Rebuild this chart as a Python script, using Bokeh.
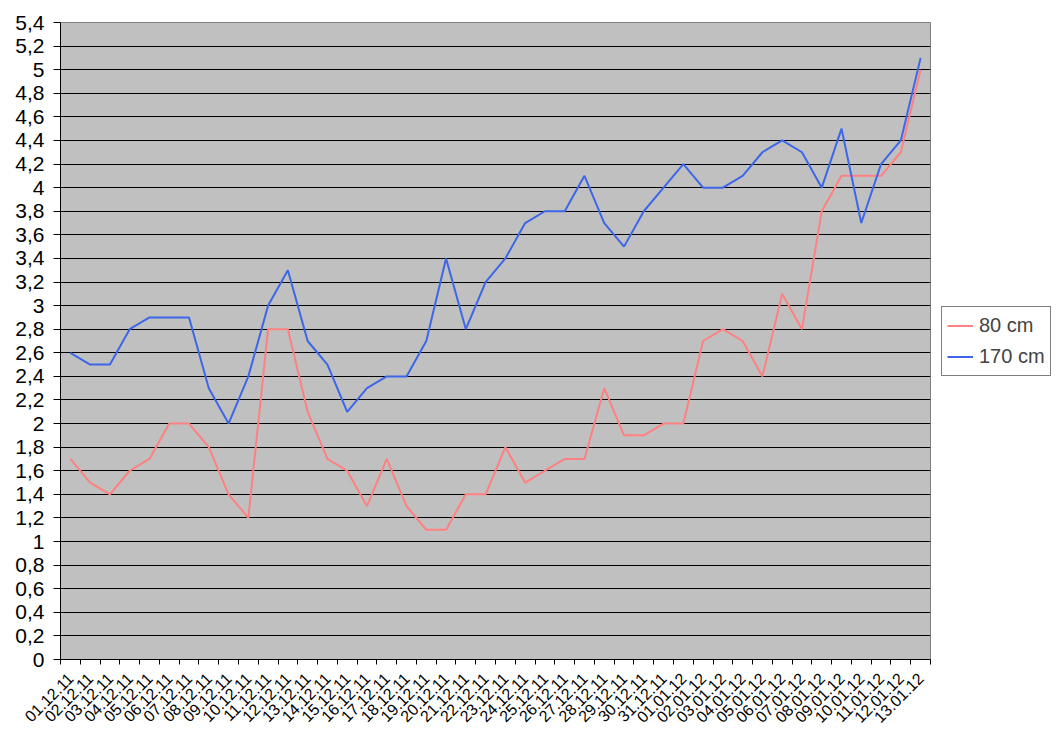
from bokeh.plotting import figure
from bokeh.models import (Range1d, FixedTicker, CustomJSTickFormatter, Legend, LegendItem,
                          ColumnDataSource)
from bokeh.embed import file_html
from bokeh.resources import INLINE
import math

dates = ["01.12.11", "02.12.11", "03.12.11", "04.12.11", "05.12.11", "06.12.11", "07.12.11",
         "08.12.11", "09.12.11", "10.12.11", "11.12.11", "12.12.11", "13.12.11", "14.12.11",
         "15.12.11", "16.12.11", "17.12.11", "18.12.11", "19.12.11", "20.12.11", "21.12.11",
         "22.12.11", "23.12.11", "24.12.11", "25.12.11", "26.12.11", "27.12.11", "28.12.11",
         "29.12.11", "30.12.11", "31.12.11", "01.01.12", "02.01.12", "03.01.12", "04.01.12",
         "05.01.12", "06.01.12", "07.01.12", "08.01.12", "09.01.12", "10.01.12", "11.01.12",
         "12.01.12", "13.01.12"]

cm80 = [1.7, 1.5, 1.4, 1.6, 1.7, 2.0, 2.0, 1.8, 1.4, 1.2, 2.8, 2.8, 2.1, 1.7, 1.6, 1.3, 1.7,
        1.3, 1.1, 1.1, 1.4, 1.4, 1.8, 1.5, 1.6, 1.7, 1.7, 2.3, 1.9, 1.9, 2.0, 2.0, 2.7, 2.8,
        2.7, 2.4, 3.1, 2.8, 3.8, 4.1, 4.1, 4.1, 4.3, 5.0]

cm170 = [2.6, 2.5, 2.5, 2.8, 2.9, 2.9, 2.9, 2.3, 2.0, 2.4, 3.0, 3.3, 2.7, 2.5, 2.1, 2.3, 2.4,
         2.4, 2.7, 3.4, 2.8, 3.2, 3.4, 3.7, 3.8, 3.8, 4.1, 3.7, 3.5, 3.8, 4.0, 4.2, 4.0, 4.0,
         4.1, 4.3, 4.4, 4.3, 4.0, 4.5, 3.7, 4.2, 4.4, 5.1]

series_names = ["80 cm", "170 cm"]
series_colors = ["#FF8080", "#3D66E8"]

y_ticks = [round(0.2 * i, 1) for i in range(28)]

n = len(dates)
centers = [i + 0.5 for i in range(n)]
bounds = [float(i) for i in range(n + 1)]

FONT = "Liberation Sans"

p = figure(frame_width=870, frame_height=637, output_backend="svg", toolbar_location=None,
           x_range=Range1d(0, n), y_range=Range1d(0, 5.4),
           min_border_left=60, min_border_top=22, min_border_bottom=72, min_border_right=0,
           background_fill_color="white", border_fill_color="white")
p.background_fill_color = "#C0C0C0"
p.outline_line_color = "#808080"
p.outline_line_width = 1

src = ColumnDataSource(dict(x=centers, a=cm80, b=cm170))
r1 = p.line("x", "a", source=src, line_color=series_colors[0], line_width=2)
r2 = p.line("x", "b", source=src, line_color=series_colors[1], line_width=2)

# Y axis
p.yaxis.ticker = FixedTicker(ticks=y_ticks)
p.yaxis.formatter = CustomJSTickFormatter(
    code="return tick.toFixed(1).replace('.', ',').replace(/,0$/, '');")
p.yaxis.major_label_text_font = FONT
p.yaxis.major_label_text_font_size = "21px"
p.yaxis.major_label_text_color = "black"
p.yaxis.major_tick_out = 7
p.yaxis.major_tick_in = 0
p.yaxis.minor_tick_line_color = None
p.yaxis.axis_line_color = "black"
p.yaxis.major_tick_line_color = "black"
p.yaxis.major_label_standoff = 9

# Y grid
p.ygrid.ticker = FixedTicker(ticks=y_ticks[1:-1])
p.ygrid.grid_line_color = "black"
p.ygrid.grid_line_width = 1
p.xgrid.grid_line_color = None

# X axis
p.xaxis.ticker = FixedTicker(ticks=centers, minor_ticks=bounds)
p.xaxis.major_label_overrides = {c: d for c, d in zip(centers, dates)}
p.xaxis.major_label_orientation = math.pi / 4
p.xaxis.major_label_text_font = FONT
p.xaxis.major_label_text_font_size = "16px"
p.xaxis.major_label_text_color = "black"
p.xaxis.major_tick_out = 0
p.xaxis.major_tick_in = 0
p.xaxis.minor_tick_out = 5
p.xaxis.minor_tick_in = 0
p.xaxis.minor_tick_line_color = "black"
p.xaxis.axis_line_color = "black"
p.xaxis.major_label_standoff = 11

legend = Legend(items=[LegendItem(label=series_names[0], renderers=[r1]),
                       LegendItem(label=series_names[1], renderers=[r2])],
                location="center_left",
                label_text_font=FONT, label_text_font_size="20px",
                border_line_color="black", border_line_width=1,
                background_fill_color="white", background_fill_alpha=1,
                glyph_width=26, glyph_height=27, label_height=27,
                spacing=4, padding=5, margin=11, label_standoff=6)
p.add_layout(legend, "right")

open("out.html", "w").write(file_html(p, INLINE))
